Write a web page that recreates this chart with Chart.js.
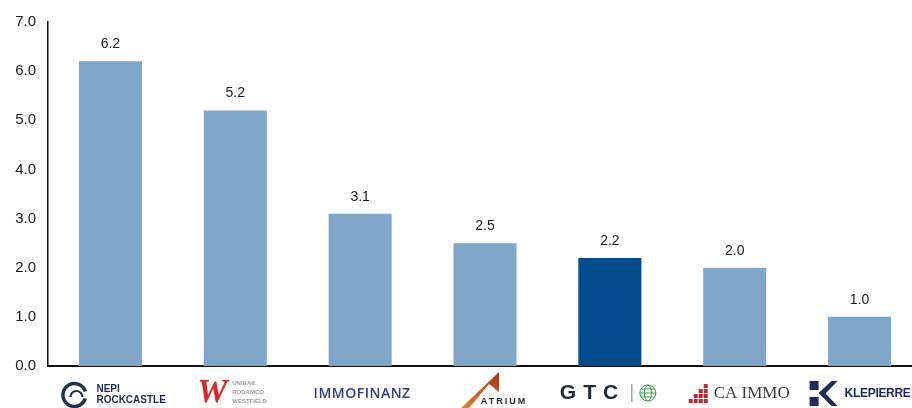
<!DOCTYPE html>
<html>
<head>
<meta charset="utf-8">
<script src="https://cdn.jsdelivr.net/npm/chart.js@4/dist/chart.umd.min.js"></script>
<style>
  html, body { margin: 0; padding: 0; background: #fff; overflow: hidden; }
  #wrap { width: 922px; height: 408px; }
</style>
</head>
<body>
<div id="wrap"><canvas id="chart"></canvas></div>
<script>
// --- Data ---
const companies = ['NEPI Rockcastle', 'URW', 'Immofinanz', 'Atrium', 'GTC', 'CA Immo', 'Klepierre'];
const values = [6.2, 5.2, 3.1, 2.5, 2.2, 2.0, 1.0];
const yTicks = [0, 1, 2, 3, 4, 5, 6, 7];

const LIGHT = '#7fa6c9';
const DARK = '#004c8d';
const barColors = companies.map(c => c === 'GTC' ? DARK : LIGHT);

// --- Logo drawing (x-axis labels are company logos) ---
function drawLogo(ctx, name, cx) {
  ctx.save();
  ctx.textBaseline = 'middle';
  ctx.textAlign = 'left';
  if (name === 'NEPI Rockcastle') {
    ctx.strokeStyle = '#1b3354';
    ctx.lineWidth = 3.5;
    ctx.beginPath(); ctx.arc(cx - 36, 395, 11.5, 0.1 * Math.PI, 1.9 * Math.PI); ctx.stroke();
    ctx.lineWidth = 2.2;
    ctx.beginPath(); ctx.arc(cx - 34, 397, 6, 1.0 * Math.PI, 2.0 * Math.PI); ctx.stroke();
    ctx.fillStyle = '#1b2b4d';
    ctx.font = 'bold 10px "Liberation Sans", Arial';
    ctx.fillText('NEPI', cx - 14, 389);
    ctx.fillText('ROCKCASTLE', cx - 14, 400);
  } else if (name === 'URW') {
    ctx.fillStyle = '#d9262b';
    ctx.font = 'italic bold 34px "Liberation Serif", serif';
    ctx.fillText('W', cx - 38, 393);
    ctx.fillStyle = '#9a9a9a';
    ctx.font = 'bold 6px "Liberation Sans", Arial';
    ctx.fillText('UNIBAIL', cx - 3, 383);
    ctx.fillText('RODAMCO', cx - 3, 392);
    ctx.fillText('WESTFIELD', cx - 3, 401);
  } else if (name === 'Immofinanz') {
    ctx.fillStyle = '#2f3b87';
    ctx.textAlign = 'center';
    ctx.font = '600 14px "Open Sans", Arial';
    ctx.letterSpacing = '0.5px';
    ctx.fillText('IMMOFINANZ', cx + 2, 394);
  } else if (name === 'Atrium') {
    const g = ctx.createLinearGradient(cx - 24, 408, cx + 16, 372);
    g.addColorStop(0, '#e8842a');
    g.addColorStop(1, '#a3341c');
    ctx.fillStyle = g;
    ctx.beginPath();
    ctx.moveTo(cx - 24, 408);
    ctx.lineTo(cx + 14, 372);
    ctx.lineTo(cx + 14, 392);
    ctx.lineTo(cx + 4, 384);
    ctx.lineTo(cx - 16, 408);
    ctx.closePath();
    ctx.fill();
    ctx.fillStyle = '#2a2a2a';
    ctx.textAlign = 'center';
    ctx.font = 'bold 9px "Liberation Sans", Arial';
    ctx.letterSpacing = '2px';
    ctx.fillText('ATRIUM', cx + 19, 402);
  } else if (name === 'GTC') {
    ctx.fillStyle = '#1f2b38';
    ctx.font = 'bold 21px "Liberation Sans", Arial';
    ctx.letterSpacing = '7px';
    ctx.fillText('GTC', cx - 50, 393);
    ctx.strokeStyle = '#777';
    ctx.lineWidth = 1;
    ctx.beginPath(); ctx.moveTo(cx + 22, 384); ctx.lineTo(cx + 22, 402); ctx.stroke();
    ctx.strokeStyle = '#3aa04a';
    ctx.lineWidth = 1;
    ctx.beginPath(); ctx.arc(cx + 38, 393, 8, 0, 2 * Math.PI); ctx.stroke();
    ctx.beginPath(); ctx.ellipse(cx + 38, 393, 3.5, 8, 0, 0, 2 * Math.PI); ctx.stroke();
    ctx.beginPath(); ctx.moveTo(cx + 30, 393); ctx.lineTo(cx + 46, 393); ctx.stroke();
    ctx.beginPath(); ctx.moveTo(cx + 31.5, 389); ctx.lineTo(cx + 44.5, 389); ctx.stroke();
    ctx.beginPath(); ctx.moveTo(cx + 31.5, 397); ctx.lineTo(cx + 44.5, 397); ctx.stroke();
  } else if (name === 'CA Immo') {
    ctx.fillStyle = '#c4252c';
    const blocks = [[3, 0], [2, 1], [3, 1], [1, 2], [2, 2], [3, 2], [0, 3], [1, 3], [2, 3], [3, 3]];
    blocks.forEach(([bx, by]) => ctx.fillRect(cx - 46 + bx * 5, 384 + by * 5, 4, 4));
    ctx.fillStyle = '#3a3a3a';
    ctx.font = '17px "Liberation Serif", serif';
    ctx.fillText('CA IMMO', cx - 21, 394);
  } else if (name === 'Klepierre') {
    ctx.fillStyle = '#1c2a5c';
    ctx.fillRect(cx - 50, 381, 9, 9);
    ctx.fillRect(cx - 50, 397, 9, 9);
    ctx.beginPath();
    ctx.moveTo(cx - 41, 393); ctx.lineTo(cx - 28, 381); ctx.lineTo(cx - 22, 381);
    ctx.lineTo(cx - 34, 393.5); ctx.lineTo(cx - 22, 406); ctx.lineTo(cx - 28, 406);
    ctx.closePath(); ctx.fill();
    ctx.font = 'bold 12px "Liberation Sans", Arial';
    ctx.letterSpacing = '-0.3px';
    ctx.fillText('KLEPIERRE', cx - 15, 394);
  }
  ctx.restore();
}

const logoPlugin = {
  id: 'logos',
  afterDraw(chart) {
    const ctx = chart.ctx;
    const xs = chart.scales.x;
    companies.forEach((c, i) => drawLogo(ctx, c, xs.getPixelForValue(i)));
  }
};

const valueLabels = {
  id: 'valueLabels',
  afterDatasetsDraw(chart) {
    const ctx = chart.ctx;
    const meta = chart.getDatasetMeta(0);
    ctx.save();
    ctx.fillStyle = '#1a1a1a';
    ctx.font = '14px "Liberation Sans", Arial';
    ctx.textAlign = 'center';
    ctx.textBaseline = 'middle';
    meta.data.forEach((bar, i) => {
      ctx.fillText(values[i].toFixed(1), bar.x, bar.y - 17);
    });
    ctx.restore();
  }
};

new Chart(document.getElementById('chart'), {
  type: 'bar',
  data: {
    labels: companies,
    datasets: [{
      data: values,
      backgroundColor: barColors,
      borderWidth: 0,
      categoryPercentage: 1,
      barPercentage: 0.505
    }]
  },
  options: {
    responsive: true,
    maintainAspectRatio: false,
    animation: false,
    layout: { padding: { top: 22, bottom: 42, left: 0, right: 0 } },
    plugins: { legend: { display: false }, tooltip: { enabled: false } },
    scales: {
      x: {
        grid: { display: false, drawTicks: false },
        border: { display: true, color: '#111', width: 2 },
        ticks: { display: false }
      },
      y: {
        min: 0, max: 7,
        afterBuildTicks: axis => { axis.ticks = yTicks.map(v => ({ value: v })); },
        afterFit: axis => { axis.width = 48; },
        grid: { display: false, drawTicks: false },
        border: { display: true, color: '#111', width: 1.5 },
        ticks: {
          padding: 12,
          color: '#1a1a1a',
          font: { family: '"Liberation Sans", Arial', size: 15 },
          callback: v => v.toFixed(1)
        }
      }
    }
  },
  plugins: [valueLabels, logoPlugin]
});
</script>
</body>
</html>
